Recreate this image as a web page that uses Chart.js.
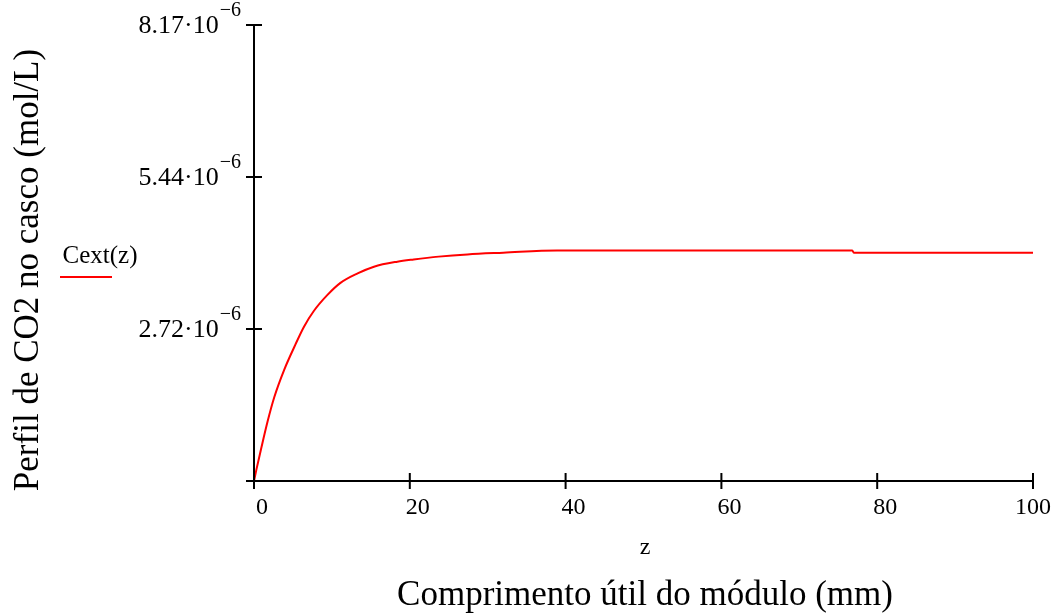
<!DOCTYPE html>
<html>
<head>
<meta charset="utf-8">
<script src="https://cdn.jsdelivr.net/npm/chart.js@4"></script>
<style>
  html, body { margin: 0; padding: 0; background: #fff; }
  #wrap { width: 1057px; height: 615px; }
</style>
</head>
<body>
<div id="wrap"><canvas id="chart"></canvas></div>
<script>
// z (mm) and Cext(z) (1e-6 mol/L)
const zValues = [0, 0.3, 0.9, 1.75, 2.6, 3.9, 5.2, 6.4, 7.7, 9.4, 11.1, 13.3, 15.4, 18.4, 20.5, 23.7, 27.4, 32.0, 38.9, 76.8, 77.0, 100];
const cextValues = [0.0, 0.2, 0.57, 1.07, 1.5, 2.0, 2.41, 2.76, 3.05, 3.33, 3.55, 3.72, 3.84, 3.93, 3.97, 4.02, 4.06, 4.09, 4.13, 4.13, 4.09, 4.09];

const xTicks = [0, 20, 40, 60, 80, 100];
const yTicks = [0, 8.17 / 3, 8.17 * 2 / 3, 8.17];
const yTickLabels = ['', '2.72', '5.44', '8.17'];

const SERIF = '"Liberation Serif", "Times New Roman", serif';

const axesPlugin = {
  id: 'mathcadAxes',
  afterDraw(chart) {
    const ctx = chart.ctx;
    const xs = chart.scales.x, ys = chart.scales.y;
    const x0 = xs.getPixelForValue(0), x1 = xs.getPixelForValue(100);
    const y0 = ys.getPixelForValue(0), y1 = ys.getPixelForValue(8.17);
    ctx.save();
    ctx.strokeStyle = '#000';
    ctx.lineWidth = 2;
    ctx.beginPath();
    ctx.moveTo(x0 - 8, y0); ctx.lineTo(x1, y0);
    ctx.moveTo(x0, y0 + 8); ctx.lineTo(x0, y1);
    xTicks.forEach(v => {
      const px = xs.getPixelForValue(v);
      ctx.moveTo(px, y0 - 8); ctx.lineTo(px, y0 + 8);
    });
    yTicks.forEach(v => {
      const py = ys.getPixelForValue(v);
      ctx.moveTo(x0 - 8, py); ctx.lineTo(x0 + 8, py);
    });
    ctx.stroke();

    ctx.fillStyle = '#000';
    ctx.font = '24px ' + SERIF;
    ctx.textAlign = 'center';
    ctx.textBaseline = 'middle';
    xTicks.forEach((v, i) => {
      const px = xs.getPixelForValue(v);
      ctx.fillText(String(v), i === xTicks.length - 1 ? px : px + 8, y0 + 27);
    });

    yTicks.forEach((v, i) => {
      if (!yTickLabels[i]) return;
      const py = ys.getPixelForValue(v);
      ctx.font = '20px ' + SERIF;
      ctx.textAlign = 'right';
      ctx.fillText('\u22126', x0 - 13, py - 14);
      const supW = ctx.measureText('\u22126').width;
      ctx.font = '26px ' + SERIF;
      ctx.fillText(yTickLabels[i] + '\u00b710', x0 - 14 - supW, py + 1);
    });

    // legend
    ctx.font = '25px ' + SERIF;
    ctx.textAlign = 'center';
    ctx.fillText('Cext(z)', 100, 256);
    ctx.strokeStyle = '#ff0000';
    ctx.lineWidth = 2;
    ctx.beginPath();
    ctx.moveTo(60, 277); ctx.lineTo(112, 277);
    ctx.stroke();

    // axis titles
    ctx.fillStyle = '#000';
    ctx.font = '24px ' + SERIF;
    ctx.fillText('z', 645, 548);
    ctx.font = '35px ' + SERIF;
    ctx.fillText('Comprimento útil do módulo (mm)', 645, 596);
    ctx.translate(29, 270);
    ctx.rotate(-Math.PI / 2);
    ctx.fillText('Perfil de CO2 no casco (mol/L)', 0, 0);
    ctx.restore();
  }
};

new Chart(document.getElementById('chart'), {
  type: 'line',
  data: {
    datasets: [{
      label: 'Cext(z)',
      data: zValues.map((z, i) => ({ x: z, y: cextValues[i] })),
      borderColor: '#ff0000',
      borderWidth: 2,
      pointRadius: 0,
      cubicInterpolationMode: 'monotone',
      fill: false
    }]
  },
  options: {
    responsive: true,
    maintainAspectRatio: false,
    animation: false,
    layout: { padding: { left: 254, top: 25, right: 24, bottom: 134 } },
    plugins: { legend: { display: false }, tooltip: { enabled: false } },
    scales: {
      x: { type: 'linear', min: 0, max: 100, display: false },
      y: { min: 0, max: 8.17, display: false }
    }
  },
  plugins: [axesPlugin]
});
</script>
</body>
</html>
